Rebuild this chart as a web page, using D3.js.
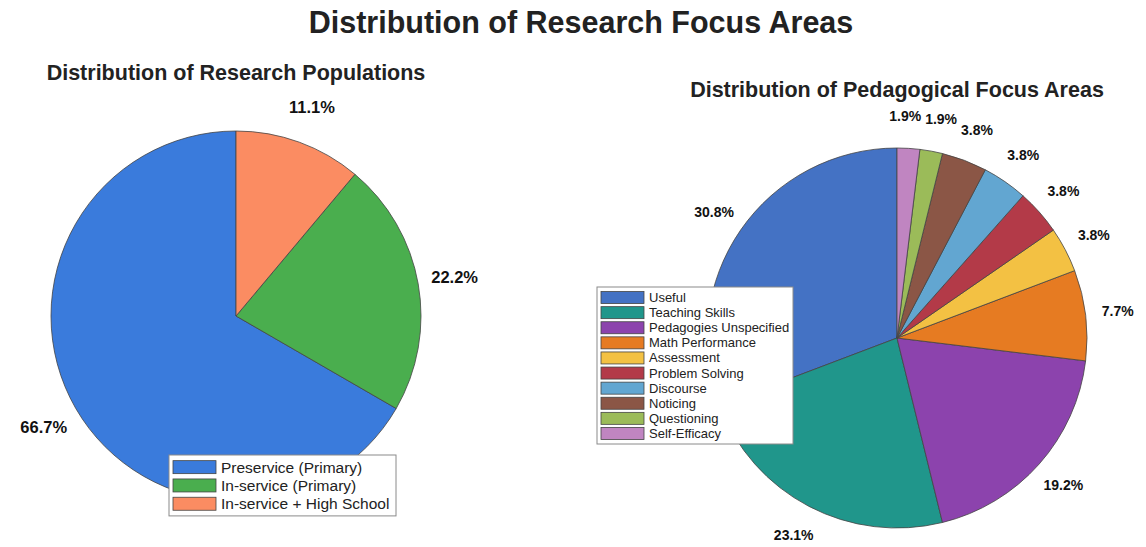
<!DOCTYPE html>
<html>
<head>
<meta charset="utf-8">
<script src="https://cdn.jsdelivr.net/npm/d3@7"></script>
<style>
  body { margin: 0; background: #fff; }
  text { font-family: "Liberation Sans", Arial, Helvetica, sans-serif; }
</style>
</head>
<body>
<div class="canvas"></div>
<script>
// Data
const popLabels = ['Preservice (Primary)', 'In-service (Primary)', 'In-service + High School']
const popCounts = [6, 2, 1]
const popColors = ['#3a7bdc', '#4aae4e', '#fb8c62']

const focusLabels = ['Useful', 'Teaching Skills', 'Pedagogies Unspecified', 'Math Performance',
  'Assessment', 'Problem Solving', 'Discourse', 'Noticing', 'Questioning', 'Self-Efficacy']
const focusCounts = [16, 12, 10, 4, 2, 2, 2, 2, 1, 1]
const focusColors = ['#4472c4', '#20968b', '#8c43ad', '#e67b22', '#f3c143', '#b33a48',
  '#62a6d1', '#8b5646', '#9bbb59', '#c085c1']

const width = 1146
const height = 547

const svg = d3.select('.canvas')
  .append('svg')
    .attr('width', width)
    .attr('height', height)

// Main title
svg.append('text')
  .attr('x', 581)
  .attr('y', 22)
  .attr('text-anchor', 'middle')
  .attr('dominant-baseline', 'central')
  .attr('font-size', 30.5)
  .attr('font-weight', 'bold')
  .attr('fill', '#222')
  .text('Distribution of Research Focus Areas')

// Draws one pie with its title, percentage labels and legend
const drawPie = (opts) => {
  const g = svg.append('g')
    .attr('transform', `translate(${opts.cx},${opts.cy})`)

  const total = d3.sum(opts.values)
  const data = opts.values.map((v, i) => ({ value: v, label: opts.labels[i], color: opts.colors[i] }))

  // counter-clockwise from 12 o'clock
  const pie = d3.pie()
    .value(d => d.value)
    .sort(null)
    .startAngle(0)
    .endAngle(-2 * Math.PI)

  const arc = d3.arc().innerRadius(0).outerRadius(opts.r)
  const labelArc = d3.arc().innerRadius(opts.r * opts.labelDist).outerRadius(opts.r * opts.labelDist)

  const arcs = pie(data)

  g.selectAll('path')
    .data(arcs)
    .enter()
    .append('path')
      .attr('d', arc)
      .attr('fill', d => d.data.color)
      .attr('stroke', '#444')
      .attr('stroke-width', 0.8)

  const pcts = g.selectAll('text.pct')
    .data(arcs)
    .enter()
    .append('text')
      .attr('class', 'pct')
      .attr('text-anchor', 'middle')
      .attr('dominant-baseline', 'central')
      .attr('font-size', opts.pctSize)
      .attr('font-weight', 'bold')
      .attr('fill', '#111')
      .text(d => (d.value / total * 100).toFixed(1) + '%')

  // place labels, then push overlapping ones apart sideways
  const pos = arcs.map(d => labelArc.centroid(d))
  const widths = pcts.nodes().map(n => n.getComputedTextLength() + 4)
  const lineH = opts.pctSize * 1.1
  for (let pass = 0; pass < 20; pass++) {
    for (let i = 0; i < pos.length; i++) {
      for (let j = i + 1; j < pos.length; j++) {
        const need = (widths[i] + widths[j]) / 2
        const dx = pos[j][0] - pos[i][0]
        if (Math.abs(dx) < need && Math.abs(pos[j][1] - pos[i][1]) < lineH) {
          const shift = (need - Math.abs(dx)) / 2
          const s = dx >= 0 ? 1 : -1
          pos[i][0] -= s * shift
          pos[j][0] += s * shift
        }
      }
    }
  }
  pcts.attr('transform', (d, i) => `translate(${pos[i]})`)

  // Subtitle
  svg.append('text')
    .attr('x', opts.cx)
    .attr('y', opts.titleY)
    .attr('text-anchor', 'middle')
    .attr('dominant-baseline', 'central')
    .attr('font-size', 21.5)
    .attr('font-weight', 'bold')
    .attr('fill', '#222')
    .text(opts.title)

  // Legend
  const lg = svg.append('g')
    .attr('transform', `translate(${opts.legend.x},${opts.legend.y})`)

  lg.append('rect')
    .attr('width', opts.legend.w)
    .attr('height', opts.legend.rowH * data.length + 6)
    .attr('fill', '#fff')
    .attr('stroke', '#8a8a8a')
    .attr('stroke-width', 1)

  const rows = lg.selectAll('g.row')
    .data(data)
    .enter()
    .append('g')
      .attr('class', 'row')
      .attr('transform', (d, i) => `translate(4,${3 + i * opts.legend.rowH})`)

  rows.append('rect')
    .attr('y', (opts.legend.rowH - opts.legend.swH) / 2)
    .attr('width', 43)
    .attr('height', opts.legend.swH)
    .attr('fill', d => d.color)
    .attr('stroke', '#444')
    .attr('stroke-width', 0.8)

  rows.append('text')
    .attr('x', 48)
    .attr('y', opts.legend.rowH / 2)
    .attr('dominant-baseline', 'central')
    .attr('font-size', opts.legend.fontSize)
    .attr('fill', '#222')
    .text(d => d.label)
}

drawPie({
  cx: 236, cy: 316, r: 185,
  values: popCounts, labels: popLabels, colors: popColors,
  labelDist: 1.2, pctSize: 16.5,
  title: 'Distribution of Research Populations', titleY: 73,
  legend: { x: 169, y: 455, w: 227, rowH: 18.3, swH: 13, fontSize: 15.5 }
})

drawPie({
  cx: 897, cy: 338, r: 190,
  values: focusCounts, labels: focusLabels, colors: focusColors,
  labelDist: 1.17, pctSize: 14,
  title: 'Distribution of Pedagogical Focus Areas', titleY: 90,
  legend: { x: 597, y: 287, w: 196, rowH: 15.1, swH: 12, fontSize: 13 }
})
</script>
</body>
</html>
